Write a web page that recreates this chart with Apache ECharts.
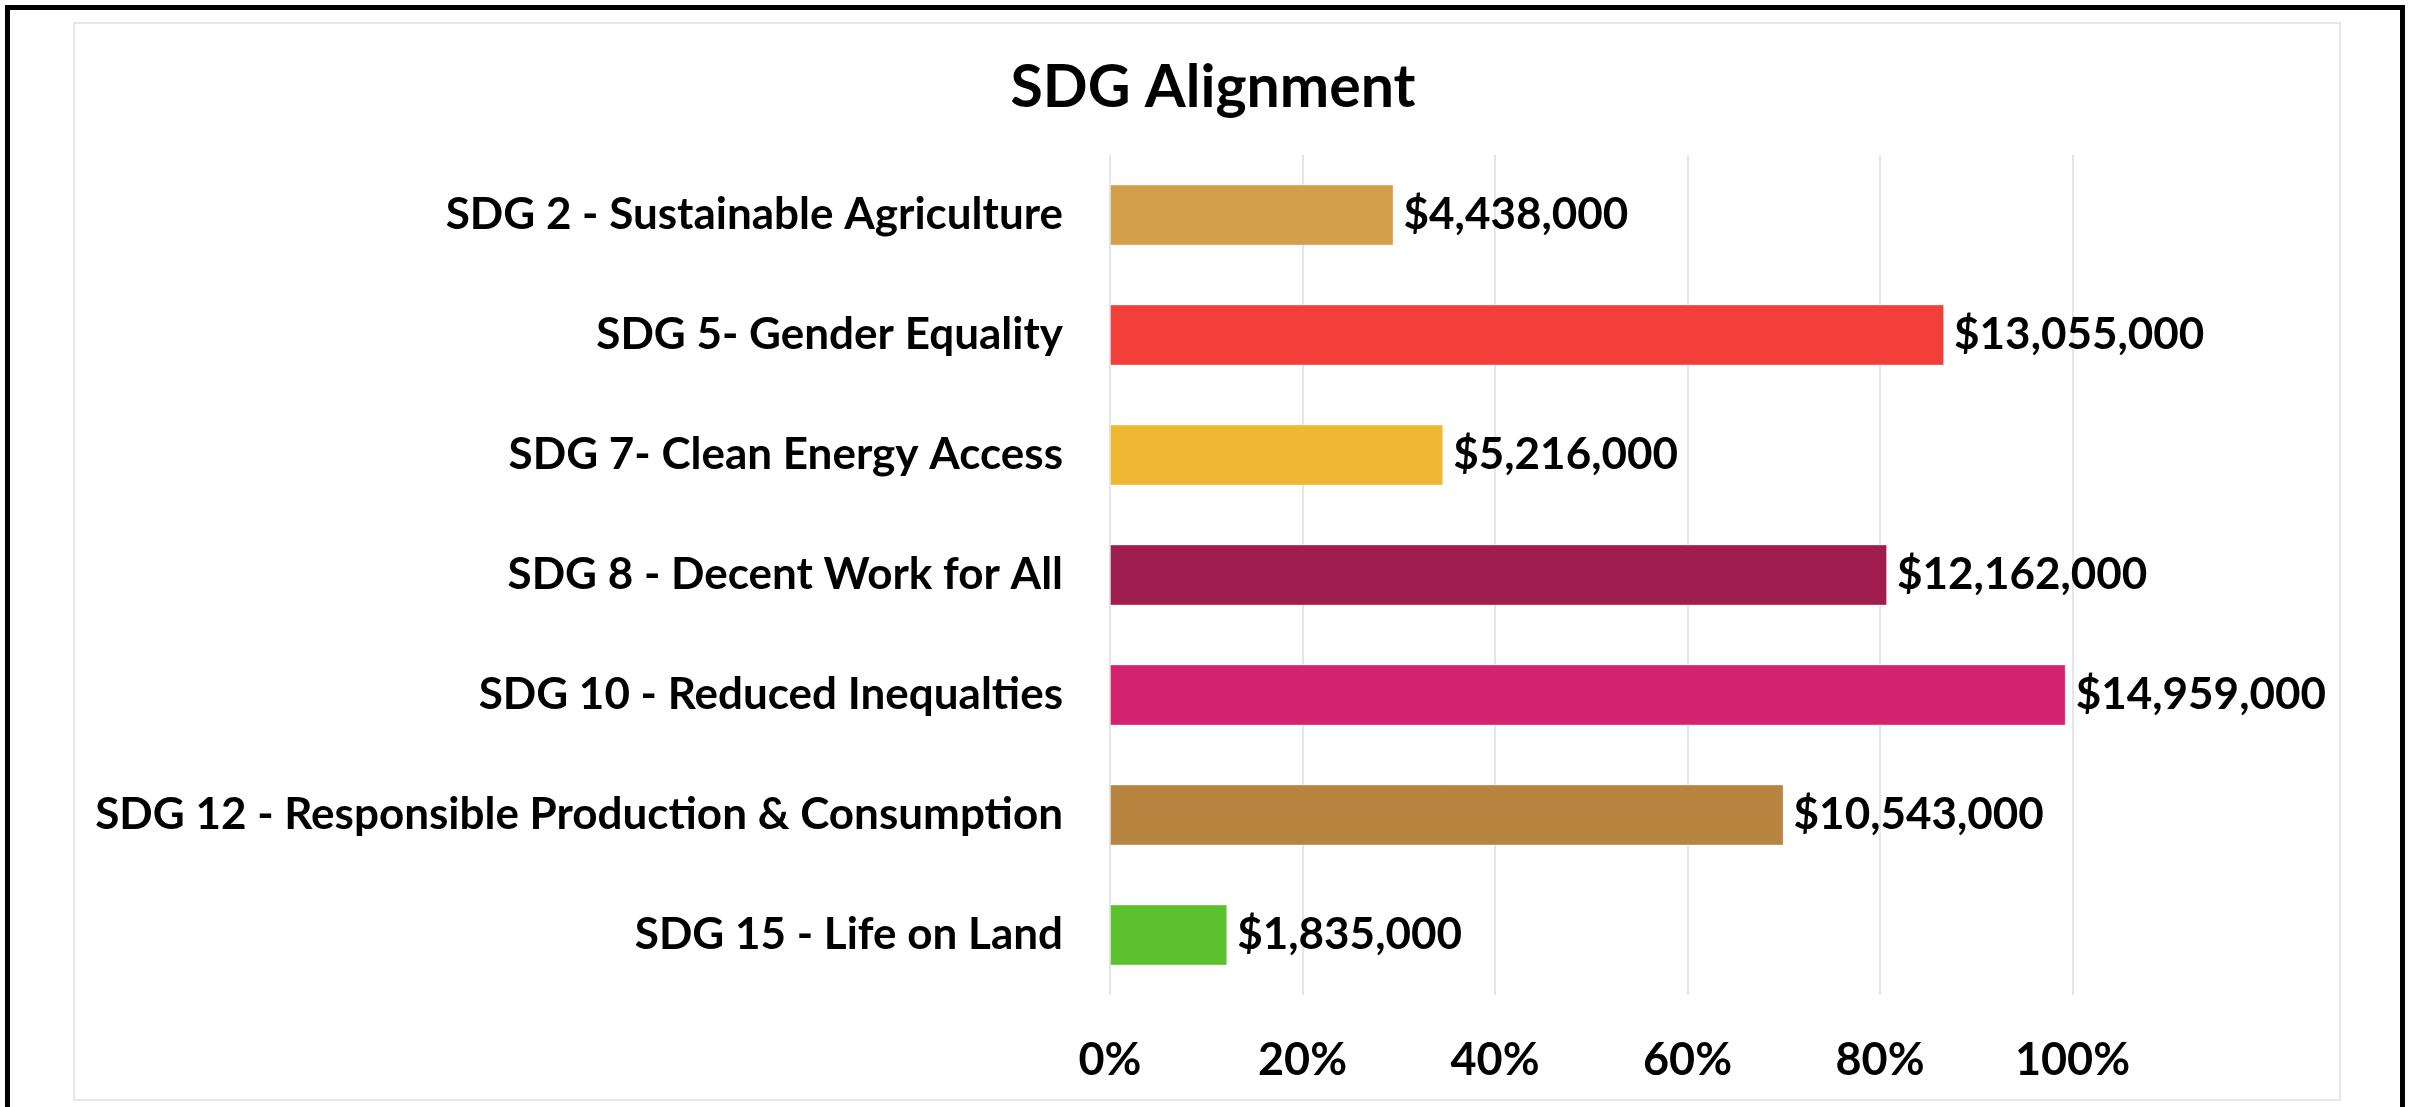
<!DOCTYPE html>
<html>
<head>
<meta charset="utf-8">
<script src="https://cdn.jsdelivr.net/npm/echarts@6/dist/echarts.min.js"></script>
<style>
html,body{margin:0;padding:0;background:#fff;}
#chart{width:2410px;height:1107px;}
</style>
</head>
<body>
<div id="chart"></div>
<script>
const categories = [
  'SDG 2 - Sustainable Agriculture',
  'SDG 5- Gender Equality',
  'SDG 7- Clean Energy Access',
  'SDG 8 - Decent Work for All',
  'SDG 10 - Reduced Inequalties',
  'SDG 12 - Responsible Production & Consumption',
  'SDG 15 - Life on Land'
];
const amounts = [4438000, 13055000, 5216000, 12162000, 14959000, 10543000, 1835000];
const barColors = ['#D49F4B', '#F23F39', '#EEB832', '#A01E4F', '#D4226F', '#B88541', '#5BC12E'];
const tickLabels = ['0%', '20%', '40%', '60%', '80%', '100%'];
const axisScale = 15065000;

const FONT = 'Lato, "Open Sans", sans-serif';
const chart = echarts.init(document.getElementById('chart'));
chart.setOption({
  animation: false,
  backgroundColor: '#fff',
  graphic: [
    {type: 'rect', silent: true, z: -10, shape: {x: 7.5, y: 7.5, width: 2395, height: 1200},
     style: {fill: 'none', stroke: '#000', lineWidth: 5}},
    {type: 'rect', silent: true, z: -10, shape: {x: 74, y: 23, width: 2266, height: 1077},
     style: {fill: 'none', stroke: '#E4E7EE', lineWidth: 2}}
  ],
  title: {
    text: 'SDG Alignment',
    left: 1208, textAlign: 'center', top: 53,
    textStyle: {fontFamily: FONT, fontWeight: 'bold', fontSize: 59, color: '#000'}
  },
  grid: {left: 1110, top: 155, right: 337.5, bottom: 112, containLabel: false},
  xAxis: {
    type: 'value', min: 0, max: axisScale, interval: axisScale / 5,
    axisLine: {show: false}, axisTick: {show: false},
    splitLine: {show: true, lineStyle: {color: '#E3E5EA', width: 2}},
    axisLabel: {
      margin: 43, color: '#000', fontFamily: FONT, fontWeight: 'bold', fontSize: 45,
      formatter: (v) => tickLabels[Math.round(v / axisScale * 5)]
    }
  },
  yAxis: {
    type: 'category', data: categories, inverse: true,
    axisLine: {show: false}, axisTick: {show: false}, splitLine: {show: false},
    axisLabel: {margin: 47, color: '#000', fontFamily: FONT, fontWeight: 'bold', fontSize: 44}
  },
  series: [{
    type: 'bar', data: amounts, barWidth: 61,
    itemStyle: {color: (p) => barColors[p.dataIndex], borderColor: 'rgba(255,255,255,0.35)', borderWidth: 1},
    label: {
      show: true, position: 'right', distance: 10, color: '#000',
      fontFamily: FONT, fontWeight: 'bold', fontSize: 44,
      formatter: (p) => '$' + p.value.toLocaleString('en-US')
    }
  }]
});
</script>
</body>
</html>
